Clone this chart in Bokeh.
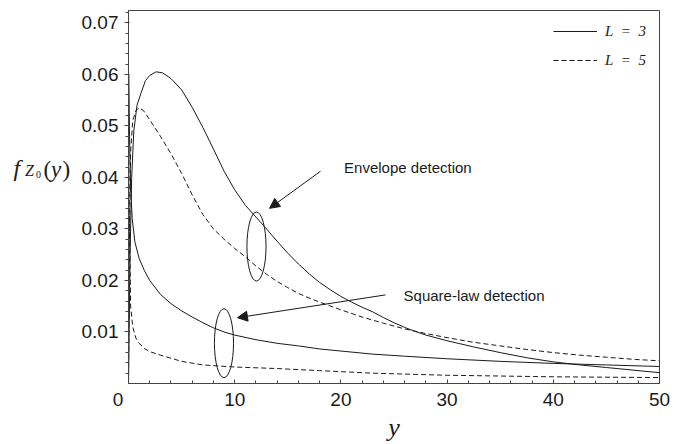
from bokeh.plotting import figure
from bokeh.layouts import row
from bokeh.models import Range1d, FixedTicker, Arrow, NormalHead, Legend, LegendItem
from bokeh.core.properties import value
from bokeh.embed import file_html
from bokeh.resources import INLINE

# ---- data ----
env_L3_x = [0, 0.15, 0.3, 0.5, 0.8, 1.2, 1.6, 2.0, 2.6, 3.2, 4.0, 5.0, 6.0, 7.0, 8.0, 9.0,
            10.0, 11.0, 12.0, 13.0, 14.0, 15.0, 16.0, 17.0, 18.0, 19.0, 20.0, 21.0, 22.0,
            23.0, 24.0, 25.0, 26.0, 27.0, 28.0, 30.0, 32.5, 35.0, 37.5, 40.0, 42.5, 45.0,
            47.5, 50.0]
env_L3_y = [0, 0.025, 0.040, 0.049, 0.054, 0.0565, 0.0588, 0.0598, 0.0605, 0.0603, 0.0592,
            0.0570, 0.0536, 0.0497, 0.0455, 0.0412, 0.0376, 0.0346, 0.0323, 0.0300, 0.0276,
            0.0253, 0.0232, 0.0213, 0.0196, 0.0182, 0.0169, 0.0158, 0.0148, 0.0139, 0.0128,
            0.0118, 0.0109, 0.0101, 0.0094, 0.0083, 0.0071, 0.0060, 0.0050, 0.0042, 0.0036,
            0.0031, 0.0026, 0.0021]

env_L5_x = [0, 0.1, 0.2, 0.4, 0.7, 1.0, 1.4, 2.0, 3.0, 4.0, 5.0, 6.0, 7.0, 8.0, 9.0, 10.0,
            11.0, 12.0, 13.0, 14.0, 15.0, 16.0, 17.0, 18.0, 20.0, 22.0, 24.0, 26.0, 28.0,
            30.0, 32.5, 35.0, 37.5, 40.0, 42.5, 45.0, 47.5, 50.0]
env_L5_y = [0, 0.030, 0.045, 0.051, 0.0530, 0.0535, 0.0530, 0.0512, 0.0480, 0.0446, 0.0408,
            0.0366, 0.0328, 0.0300, 0.0280, 0.0262, 0.0246, 0.0228, 0.0212, 0.0198, 0.0186,
            0.0175, 0.0166, 0.0158, 0.0143, 0.0129, 0.0117, 0.0106, 0.0097, 0.0089, 0.0080,
            0.0073, 0.0066, 0.0060, 0.0055, 0.0051, 0.0047, 0.0044]

sq_L3_x = [0.03, 0.1, 0.2, 0.35, 0.6, 1.0, 1.5, 2.0, 3.0, 4.0, 5.0, 6.0, 7.0, 8.0, 9.0, 10.0,
           12.0, 14.0, 16.0, 18.0, 20.0, 23.0, 26.0, 30.0, 35.0, 40.0, 45.0, 50.0]
sq_L3_y = [0.060, 0.048, 0.038, 0.032, 0.0275, 0.0243, 0.0219, 0.0200, 0.0173, 0.0155, 0.0141,
           0.0129, 0.0118, 0.0108, 0.0100, 0.0094, 0.0085, 0.0078, 0.0073, 0.0067, 0.0063,
           0.0057, 0.0053, 0.0048, 0.0043, 0.0039, 0.0036, 0.0033]

sq_L5_x = [0.03, 0.1, 0.2, 0.4, 0.7, 1.0, 1.5, 2.0, 3.0, 4.0, 5.0, 7.0, 10.0, 14.0, 18.0,
           23.0, 30.0, 40.0, 50.0]
sq_L5_y = [0.045, 0.030, 0.0150, 0.0110, 0.0088, 0.0078, 0.0068, 0.0062, 0.0055, 0.0049,
           0.0043, 0.0036, 0.0032, 0.0029, 0.0025, 0.0020, 0.0016, 0.0013, 0.00115]

# annotation ellipses (data coords)
ell_x = [12.05, 8.99]
ell_y = [0.02659, 0.00783]
ell_w = [1.8, 1.8]
ell_h = [0.0134, 0.0134]

# annotation arrows
arrow_x0 = [18.08, 24.2]
arrow_y0 = [0.0412, 0.0172]
arrow_x1 = [13.28, 10.26]
arrow_y1 = [0.0340, 0.01277]

note_x = [20.3, 25.9]
note_y = [0.0419, 0.0170]
note_text = ["Envelope detection", "Square-law detection"]

x_ticks = [0, 10, 20, 30, 40, 50]
x_tick_labels = ["0\u2007\u2007", "10", "20", "30", "40", "50"]
y_ticks = [0.01, 0.02, 0.03, 0.04, 0.05, 0.06, 0.07]
y_tick_labels = ["0.01", "0.02", "0.03", "0.04", "0.05", "0.06", "0.07"]
legend_labels = ["L\u2002=\u20023", "L\u2002=\u20025"]

# y-axis title pieces: f_{Z_0}(y)
ytitle_text = ["f", "Z", "0", "(", "y", ")"]

INK = "#1a1a1a"
AX = "#444444"
SANS = "Liberation Sans"
SERIF = "Liberation Serif"

TITLE_W = 76

# ---- narrow panel that carries the y-axis title ----
t = figure(width=TITLE_W, height=444, output_backend="svg", toolbar_location=None,
           x_range=Range1d(0, TITLE_W), y_range=Range1d(444, 0),
           min_border_left=0, min_border_right=0, min_border_top=0, min_border_bottom=0)
t.axis.visible = False
t.grid.visible = False
t.outline_line_color = None
t.background_fill_color = "white"
t.border_fill_color = "white"
t.text(x=[13], y=[188], text=[ytitle_text[0]], text_font=value(SERIF),
       text_font_style="italic", text_font_size=value("24px"), text_color=INK,
       text_baseline="alphabetic")
t.text(x=[24.5], y=[191], text=[ytitle_text[1]], text_font=value(SERIF),
       text_font_style="italic", text_font_size=value("16px"), text_color=INK,
       text_baseline="alphabetic")
t.text(x=[35.5], y=[195], text=[ytitle_text[2]], text_font=value(SERIF),
       text_font_size=value("10px"), text_color=INK, text_baseline="alphabetic")
t.text(x=[43], y=[189], text=[ytitle_text[3]], text_font=value(SERIF),
       text_font_size=value("23px"), text_color=INK, text_baseline="alphabetic")
t.text(x=[50.5], y=[189], text=[ytitle_text[4]], text_font=value(SERIF),
       text_font_style="italic", text_font_size=value("23px"), text_color=INK,
       text_baseline="alphabetic")
t.text(x=[62], y=[189], text=[ytitle_text[5]], text_font=value(SERIF),
       text_font_size=value("23px"), text_color=INK, text_baseline="alphabetic")

# ---- main chart ----
p = figure(width=690 - TITLE_W, height=444, output_backend="svg", toolbar_location=None,
           x_range=Range1d(0, 50), y_range=Range1d(0, 0.0724),
           min_border_left=128 - TITLE_W, min_border_right=31, min_border_top=10,
           min_border_bottom=59)
p.background_fill_color = "white"
p.border_fill_color = "white"
p.grid.grid_line_color = None
p.outline_line_color = AX
p.outline_line_width = 1

xa = p.xaxis[0]
xa.ticker = FixedTicker(ticks=x_ticks, minor_ticks=[2 * i for i in range(1, 25)])
xa.major_label_overrides = {t_: l for t_, l in zip(x_ticks, x_tick_labels)}
xa.axis_line_color = AX
xa.major_tick_line_color = AX
xa.minor_tick_line_color = AX
xa.major_tick_in = 4
xa.major_tick_out = 0
xa.minor_tick_in = 3
xa.minor_tick_out = 0
xa.major_label_standoff = 5
xa.major_label_text_font = SANS
xa.major_label_text_font_size = "19px"
xa.major_label_text_color = INK
xa.axis_label = "y"
xa.axis_label_standoff = 0
xa.axis_label_text_font = SERIF
xa.axis_label_text_font_style = "italic"
xa.axis_label_text_font_size = "26px"
xa.axis_label_text_color = INK

ya = p.yaxis[0]
ya.ticker = FixedTicker(ticks=y_ticks, minor_ticks=[0.002 * i for i in range(1, 37)])
ya.major_label_overrides = {t_: l for t_, l in zip(y_ticks, y_tick_labels)}
ya.axis_line_color = AX
ya.major_tick_line_color = AX
ya.minor_tick_line_color = AX
ya.major_tick_in = 1
ya.major_tick_out = 4
ya.minor_tick_in = 0
ya.minor_tick_out = 3
ya.major_label_standoff = 6
ya.major_label_text_font = SANS
ya.major_label_text_font_size = "19px"
ya.major_label_text_color = INK

r3 = p.line(env_L3_x, env_L3_y, line_color=INK, line_width=1)
r5 = p.line(env_L5_x, env_L5_y, line_color=INK, line_width=1, line_dash="5 3")
p.line(sq_L3_x, sq_L3_y, line_color=INK, line_width=1)
p.line(sq_L5_x, sq_L5_y, line_color=INK, line_width=1, line_dash="5 3")

p.ellipse(x=ell_x, y=ell_y, width=ell_w, height=ell_h, fill_color=None,
          line_color=INK, line_width=1)

for xs, ys, xe, ye in zip(arrow_x0, arrow_y0, arrow_x1, arrow_y1):
    p.add_layout(Arrow(x_start=xs, y_start=ys, x_end=xe, y_end=ye, line_color=INK,
                       line_width=1,
                       end=NormalHead(size=10, fill_color=INK, line_color=INK, line_width=1)))

p.text(x=note_x, y=note_y, text=note_text, text_font=value(SANS),
       text_font_size=value("15px"), text_color=INK, text_baseline="alphabetic",
       text_align="left")

legend = Legend(items=[LegendItem(label=legend_labels[0], renderers=[r3]),
                       LegendItem(label=legend_labels[1], renderers=[r5])],
                location=(425, 313))
legend.border_line_color = None
legend.background_fill_alpha = 0
legend.padding = 0
legend.margin = 0
legend.spacing = 9
legend.glyph_width = 44
legend.glyph_height = 20
legend.label_height = 20
legend.label_standoff = 8
legend.label_text_font = SERIF
legend.label_text_font_style = "italic"
legend.label_text_font_size = "15px"
legend.label_text_color = INK
p.add_layout(legend)

layout = row(t, p, spacing=0)
open("out.html", "w").write(file_html(layout, INLINE))
